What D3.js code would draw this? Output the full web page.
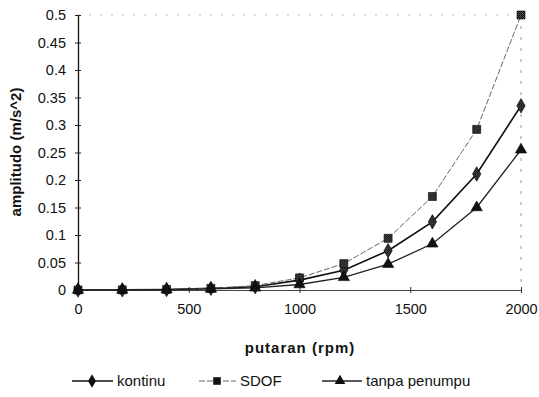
<!DOCTYPE html>
<html>
<head>
<meta charset="utf-8">
<script src="https://cdn.jsdelivr.net/npm/d3@7"></script>
<style>
  html, body { margin: 0; padding: 0; background: #fff; }
  svg { display: block; font-family: "Liberation Sans", Arial, sans-serif; }
</style>
</head>
<body>
<svg id="chart" width="539" height="397"></svg>
<script>
// rotation speed (rpm)
const rpm = [0, 200, 400, 600, 800, 1000, 1200, 1400, 1600, 1800, 2000];
// amplitude (m/s^2) per model
const kontinu = [0, 0.0003, 0.001, 0.003, 0.006, 0.018, 0.036, 0.0715, 0.124, 0.211, 0.335];
const sdof    = [0, 0.0003, 0.001, 0.003, 0.008, 0.022, 0.048, 0.094, 0.170, 0.292, 0.500];
const tanpa   = [0, 0.0002, 0.0007, 0.002, 0.004, 0.010, 0.023, 0.047, 0.084, 0.150, 0.255];
const seriesNames = ["kontinu", "SDOF", "tanpa penumpu"];
const xTicks = [0, 500, 1000, 1500, 2000];
const yTicks = [0, 0.05, 0.1, 0.15, 0.2, 0.25, 0.3, 0.35, 0.4, 0.45, 0.5];

const svg = d3.select("#chart");
const m = { left: 78, right: 18, top: 15, bottom: 107 };
const W = 539, H = 397;
const x = d3.scaleLinear().domain([0, 2000]).range([m.left, W - m.right]);
const y = d3.scaleLinear().domain([0, 0.5]).range([H - m.bottom, m.top]);

// speckled dark fill used by the diamond and square markers
const defs = svg.append("defs");
const pat = defs.append("pattern").attr("id", "hatch").attr("width", 2).attr("height", 2)
  .attr("patternUnits", "userSpaceOnUse");
pat.append("rect").attr("width", 2).attr("height", 2).attr("fill", "#555");
pat.append("rect").attr("width", 1).attr("height", 1).attr("fill", "#000");
pat.append("rect").attr("x", 1).attr("y", 1).attr("width", 1).attr("height", 1).attr("fill", "#111");

// faint frame at top and right
svg.append("line").attr("x1", x(0)).attr("x2", x(2000)).attr("y1", y(0.5)).attr("y2", y(0.5))
  .attr("stroke", "#bbb").attr("stroke-width", 1).attr("stroke-dasharray", "2,9");
svg.append("line").attr("x1", x(2000)).attr("x2", x(2000)).attr("y1", y(0.5)).attr("y2", y(0))
  .attr("stroke", "#999").attr("stroke-width", 1).attr("stroke-dasharray", "3,8");

// axes
const yAxis = d3.axisLeft(y).tickValues(yTicks).tickSizeInner(3).tickSizeOuter(0)
  .tickFormat(d => d === 0 ? "0" : String(+d.toFixed(2)));
const gy = svg.append("g").attr("transform", `translate(${x(0)},0)`).call(yAxis);
gy.select(".domain").attr("stroke", "#111").attr("stroke-width", 1.3);
gy.selectAll(".tick line").attr("x2", 3).attr("x1", -3).attr("stroke", "#222");
gy.selectAll(".tick text").attr("x", -12).attr("font-size", 14.5)
  .attr("font-family", "Liberation Sans, Arial, sans-serif").attr("fill", "#111");

const xAxis = d3.axisBottom(x).tickValues(xTicks).tickSizeInner(3).tickSizeOuter(0).tickFormat(d3.format("d"));
const gx = svg.append("g").attr("transform", `translate(0,${y(0)})`).call(xAxis);
gx.select(".domain").attr("stroke", "#444").attr("stroke-width", 1.2);
gx.selectAll(".tick line").attr("y1", -3).attr("y2", 3).attr("stroke", "#333");
gx.selectAll(".tick text").attr("y", 14).attr("font-size", 14.5)
  .attr("font-family", "Liberation Sans, Arial, sans-serif").attr("fill", "#111");

// axis titles
svg.append("text").attr("x", 300).attr("y", 353).attr("text-anchor", "middle")
  .attr("font-size", 15).attr("font-weight", "bold").attr("letter-spacing", 1)
  .attr("fill", "#111").text("putaran (rpm)");
svg.append("text").attr("transform", "translate(21,152) rotate(-90)")
  .attr("text-anchor", "middle").attr("font-size", 15).attr("font-weight", "bold").attr("fill", "#111")
  .text("amplitudo (m/s^2)");

const series = [
  { name: seriesNames[0], vals: kontinu, sym: d3.symbolDiamond, size: 60, fill: "url(#hatch)", stroke: "#111", width: 1.6, dash: null },
  { name: seriesNames[1], vals: sdof, sym: d3.symbolSquare, size: 64, fill: "url(#hatch)", stroke: "#666", width: 1, dash: "6,2" },
  { name: seriesNames[2], vals: tanpa, sym: d3.symbolTriangle, size: 55, fill: "#111", stroke: "#222", width: 1.3, dash: null }
];

const line = d3.line().x((d, i) => x(rpm[i])).y(d => y(d));

series.forEach(s => {
  svg.append("path").datum(s.vals).attr("d", line).attr("fill", "none")
    .attr("stroke", s.stroke).attr("stroke-width", s.width)
    .attr("stroke-dasharray", s.dash);
});
series.forEach(s => {
  svg.append("g").selectAll("path").data(s.vals).join("path")
    .attr("transform", (d, i) => `translate(${x(rpm[i])},${y(d)})`)
    .attr("d", d3.symbol().type(s.sym).size(s.size))
    .attr("fill", s.fill).attr("stroke", "#000").attr("stroke-width", 0.6);
});

// legend
const legend = [
  { x1: 72, x2: 113, mark: 92, text: 117 },
  { x1: 199, x2: 236, mark: 217, text: 240 },
  { x1: 322, x2: 362, mark: 340, text: 366 }
];
const ly = 381;
series.forEach((s, k) => {
  const L = legend[k];
  svg.append("line").attr("x1", L.x1).attr("x2", L.x2).attr("y1", ly).attr("y2", ly)
    .attr("stroke", s.stroke).attr("stroke-width", s.width).attr("stroke-dasharray", s.dash);
  svg.append("path").attr("transform", `translate(${L.mark},${ly})`)
    .attr("d", d3.symbol().type(s.sym).size(s.size * 0.9)).attr("fill", "#111");
  svg.append("text").attr("x", L.text).attr("y", ly + 5).attr("font-size", 15)
    .attr("fill", "#111").text(s.name);
});
</script>
</body>
</html>
